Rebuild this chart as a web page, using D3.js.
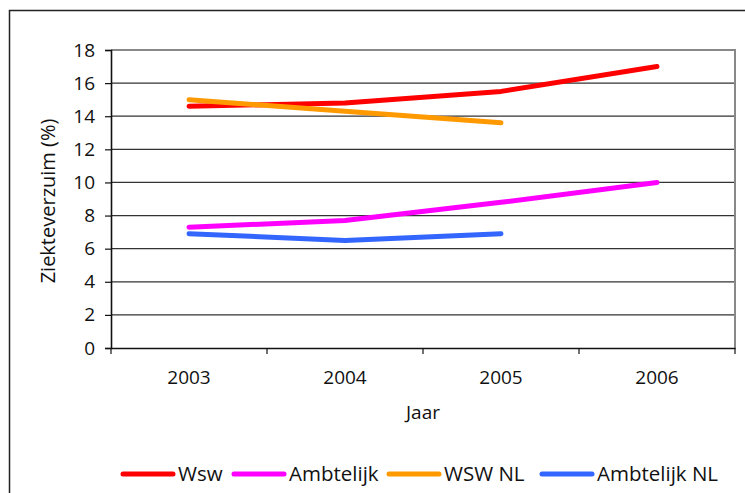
<!DOCTYPE html>
<html>
<head>
<meta charset="utf-8">
<script src="https://cdn.jsdelivr.net/npm/d3@7"></script>
<style>
  body { margin: 0; background: #fff; }
  svg { display: block; font-family: "Open Sans", sans-serif; }
</style>
</head>
<body>
<svg width="745" height="493"></svg>
<script>
var years = ["2003", "2004", "2005", "2006"];
var wsw = [14.6, 14.8, 15.5, 17.0];
var ambtelijk = [7.3, 7.7, 8.8, 10.0];
var wswNL = [15.0, 14.3, 13.6];
var ambtelijkNL = [6.9, 6.5, 6.9];
var yTicks = [0, 2, 4, 6, 8, 10, 12, 14, 16, 18];

var series = [
  { name: "Wsw", values: wsw, color: "#ff0000" },
  { name: "Ambtelijk", values: ambtelijk, color: "#ff00ff" },
  { name: "WSW NL", values: wswNL, color: "#ff9900" },
  { name: "Ambtelijk NL", values: ambtelijkNL, color: "#3366ff" }
];

var svg = d3.select("svg");

// buitenrand
svg.append("rect")
  .attr("x", 9.5).attr("y", 10.5)
  .attr("width", 745).attr("height", 493)
  .attr("fill", "none").attr("stroke", "#222").attr("stroke-width", 1.5);

var plotLeft = 111, plotRight = 735, plotTop = 50, plotBottom = 348;

var x = d3.scaleBand().domain(years).range([plotLeft, plotRight]).padding(0);
var y = d3.scaleLinear().domain([0, 18]).range([plotBottom, plotTop]);

// rasterlijnen
svg.append("g").selectAll("line")
  .data(yTicks.filter(d => d > 0 && d < 18))
  .enter().append("line")
    .attr("x1", plotLeft).attr("x2", plotRight)
    .attr("y1", d => y(d)).attr("y2", d => y(d))
    .attr("stroke", "#333").attr("stroke-width", 1.2);

// grijze rand boven en rechts
svg.append("path")
  .attr("d", "M" + plotLeft + "," + plotTop + "H" + plotRight + "V" + plotBottom)
  .attr("fill", "none").attr("stroke", "#888").attr("stroke-width", 2);

// y-as
var yAxis = svg.append("g")
  .attr("transform", "translate(" + plotLeft + ",0)")
  .call(d3.axisLeft(y).tickValues(yTicks).tickSize(6).tickPadding(10));
yAxis.select(".domain").attr("stroke", "#111").attr("stroke-width", 1.6);
yAxis.selectAll(".tick line").attr("stroke", "#111").attr("stroke-width", 1.2);
yAxis.selectAll("text").attr("font-size", 19).attr("fill", "#111")
  .attr("font-family", "Open Sans");

// x-as
var xAxis = svg.append("g")
  .attr("transform", "translate(0," + plotBottom + ")")
  .call(d3.axisBottom(x).tickSize(0).tickPadding(23));
xAxis.select(".domain").attr("stroke", "#111").attr("stroke-width", 1.6);
xAxis.selectAll("text").attr("font-size", 19).attr("fill", "#111")
  .attr("font-family", "Open Sans");

var bounds = years.map(d => x(d)).concat([x.range()[1]]);
svg.append("g").selectAll("line")
  .data(bounds)
  .enter().append("line")
    .attr("x1", d => d).attr("x2", d => d)
    .attr("y1", plotBottom).attr("y2", plotBottom + 6)
    .attr("stroke", "#111").attr("stroke-width", 1.2);

// astitels
svg.append("text")
  .attr("x", (plotLeft + plotRight) / 2).attr("y", 419)
  .attr("text-anchor", "middle")
  .attr("font-size", 19).attr("fill", "#111")
  .text("Jaar");

svg.append("text")
  .attr("transform", "translate(55," + ((plotTop + plotBottom) / 2 + 2) + ") rotate(-90)")
  .attr("text-anchor", "middle")
  .attr("font-size", 20).attr("fill", "#111")
  .text("Ziekteverzuim (%)");

// lijnen
var line = d3.line()
  .x((d, i) => x(years[i]) + x.bandwidth() / 2)
  .y(d => y(d));

svg.append("g").selectAll("path")
  .data(series)
  .enter().append("path")
    .attr("d", d => line(d.values))
    .attr("fill", "none")
    .attr("stroke", d => d.color)
    .attr("stroke-width", 5)
    .attr("stroke-linecap", "round")
    .attr("stroke-linejoin", "round");

// legenda
var legendX = [123, 234, 389, 542];
var lg = svg.append("g").selectAll("g")
  .data(series)
  .enter().append("g")
    .attr("transform", (d, i) => "translate(" + legendX[i] + ",474)");
lg.append("line")
  .attr("x1", 0).attr("x2", 50)
  .attr("stroke", d => d.color).attr("stroke-width", 5)
  .attr("stroke-linecap", "round");
lg.append("text")
  .attr("x", 55).attr("y", 7)
  .attr("font-size", 20.5).attr("fill", "#111")
  .text(d => d.name);
</script>
</body>
</html>
